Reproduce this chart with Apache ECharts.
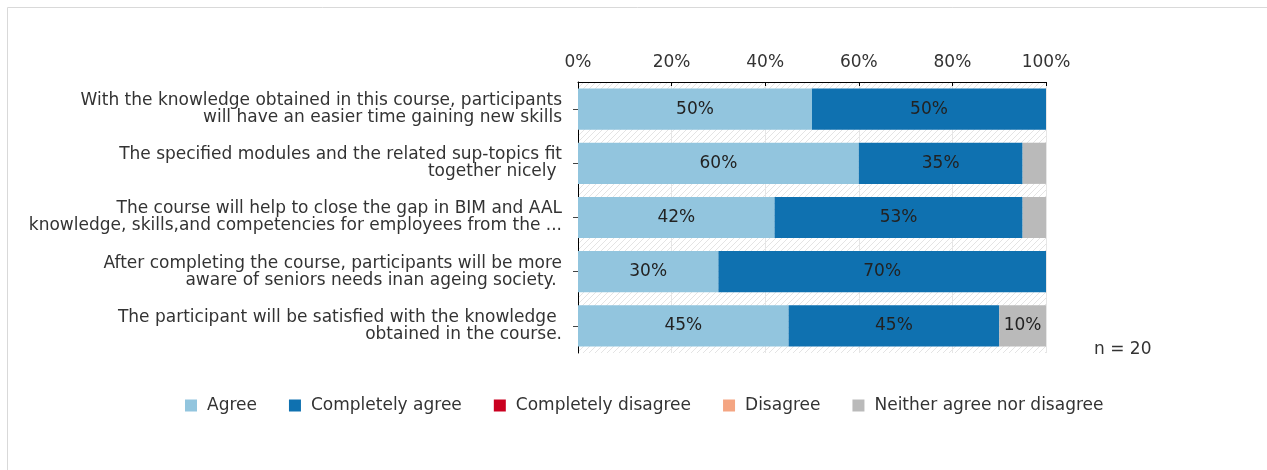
<!DOCTYPE html>
<html><head><meta charset="utf-8">
<script src="https://cdn.jsdelivr.net/npm/echarts@6/dist/echarts.min.js"></script>
<style>html,body{margin:0;padding:0;background:#fff}#c{width:1267px;height:470px}</style>
</head><body><div id="c"></div>
<script>
const categories = [
  "With the knowledge obtained in this course, participants\nwill have an easier time gaining new skills",
  "The specified modules and the related sup-topics fit\ntogether nicely ",
  "The course will help to close the gap in BIM and AAL\nknowledge, skills,and competencies for employees from the ...",
  "After completing the course, participants will be more\naware of seniors needs inan ageing society. ",
  "The participant will be satisfied with the knowledge \nobtained in the course."
];
const agree = [50, 60, 42, 30, 45];
const completelyAgree = [50, 35, 53, 70, 45];
const completelyDisagree = [0, 0, 0, 0, 0];
const disagree = [0, 0, 0, 0, 0];
const neither = [0, 5, 5, 0, 10];
const xTicks = [0, 20, 40, 60, 80, 100];

const FONT = 'DejaVu Sans';
const hatch = document.createElement('canvas');
hatch.width = 6; hatch.height = 6;
const hc = hatch.getContext('2d');
hc.fillStyle = '#fff'; hc.fillRect(0,0,6,6);
hc.strokeStyle = '#e4e4e4'; hc.lineWidth = 1;
hc.beginPath(); hc.moveTo(0,6); hc.lineTo(6,0); hc.moveTo(-1,1); hc.lineTo(1,-1); hc.moveTo(5,7); hc.lineTo(7,5); hc.stroke();

const chart = echarts.init(document.getElementById('c'), null, {renderer: 'canvas'});
const lbl = {
  show: true, position: 'inside', color: '#222', fontFamily: FONT, fontSize: 17,
  formatter: p => p.value >= 8 ? Math.round(p.value) + '%' : ''
};
function s(name, data, color) {
  return {name, type: 'bar', stack: 'total', data, barCategoryGap: '24%',
    itemStyle: {color}, label: lbl, emphasis: {disabled: true}};
}
chart.setOption({
  animation: false,
  graphic: [
    {type: 'rect', shape: {x: 7.5, y: 7.5, width: 1300, height: 500},
     style: {fill: 'none', stroke: '#d9d9d9', lineWidth: 1}, silent: true},
    {type: 'text', x: 1094, y: 350,
     style: {text: 'n = 20', font: '17px "DejaVu Sans"', fill: '#333', textVerticalAlign: 'middle'}}
  ],
  grid: {left: 578, right: 221, top: 82, height: 271, show: true, borderWidth: 0,
         backgroundColor: {image: hatch, repeat: 'repeat'}},
  legend: {
    bottom: 51, left: 180, itemWidth: 12, itemHeight: 12, itemGap: 32,
    icon: 'rect',
    textStyle: {fontFamily: FONT, fontSize: 17, color: '#333', padding: [0, 0, 0, 5]},
    data: ['Agree', 'Completely agree', 'Completely disagree', 'Disagree', 'Neither agree nor disagree']
  },
  xAxis: {
    type: 'value', position: 'top', min: 0, max: 100, interval: 20,
    axisLine: {show: true, lineStyle: {color: '#000', width: 1}},
    axisTick: {show: true, inside: true, length: 4, lineStyle: {color: '#000'}},
    axisLabel: {formatter: '{value}%', fontFamily: FONT, fontSize: 17, color: '#333', margin: 11},
    splitLine: {show: true, lineStyle: {color: '#e6e6e6'}}
  },
  yAxis: {
    type: 'category', inverse: true, data: categories,
    axisLine: {show: true, lineStyle: {color: '#000'}},
    axisTick: {show: true, alignWithLabel: true, length: 5, lineStyle: {color: '#444'}},
    axisLabel: {fontFamily: FONT, fontSize: 17, color: '#333', lineHeight: 17, margin: 16, align: 'right'}
  },
  series: [
    s('Agree', agree, '#92c5de'),
    s('Completely agree', completelyAgree, '#0f71b0'),
    s('Completely disagree', completelyDisagree, '#ca0020'),
    s('Disagree', disagree, '#f4a582'),
    s('Neither agree nor disagree', neither, '#bababa')
  ]
});
</script></body></html>
